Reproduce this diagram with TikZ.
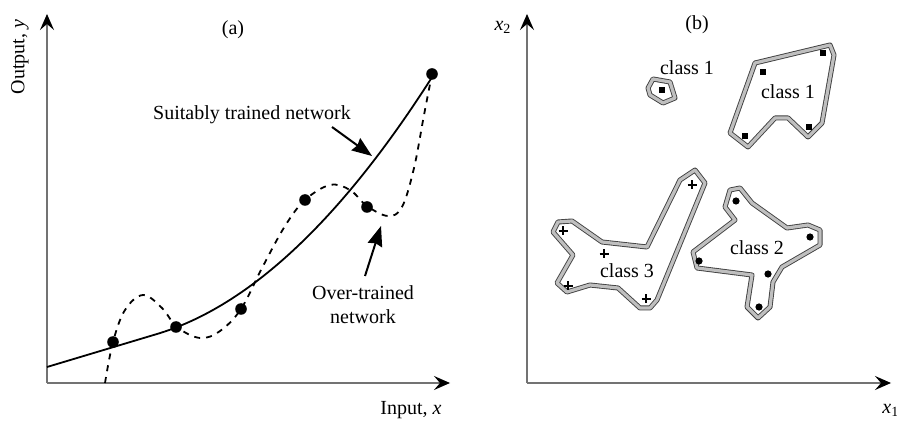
\documentclass[tikz,border=0pt]{standalone}
\usepackage{fontspec}
\setmainfont{Liberation Serif}
\usetikzlibrary{arrows.meta}
\begin{document}
\begin{tikzpicture}[x=0.5pt,y=-0.5pt,
  axis/.style={draw=black!55, line width=0.7pt, -{Stealth[length=8pt,width=7pt,inset=3pt,color=black]}},
  lbl/.style={font=\fontsize{10}{12}\selectfont, inner sep=0pt},
  pointer/.style={line width=1pt, -{Stealth[length=10pt,width=7.5pt,inset=1pt]}},
  fitcurve/.style={line width=0.9pt},
  overcurve/.style={line width=0.9pt, dash pattern=on 3pt off 3pt},
  region/.style={fill=white, draw=black!75, double=black!25, double distance=1.6pt, line width=0.45pt, line join=round},
  sqmark/.style={rectangle, fill=black, minimum size=3pt, inner sep=0pt},
  dotmark/.style={circle, fill=black, minimum size=3.6pt, inner sep=0pt},
  bigdot/.style={circle, fill=black, minimum size=5.8pt, inner sep=0pt},
  plusmark/.style={line width=0.9pt},
]
\useasboundingbox (0,0) rectangle (897,421);
\clip (0,0) rectangle (897,421);

% ---------------- panel (a) ----------------
\coordinate (ao) at (47,383);
\coordinate (ay) at (47,14);
\coordinate (ax) at (450,383);
\draw[axis] (ao) -- (ay);
\draw[axis] (ao) -- (ax);

\node[lbl] (pa) at (233,30) {(a)};
\node[lbl, rotate=90] (ylab) at (20,57) {Output, \textit{y}};
\node[lbl] (xlab) at (411,410) {Input, \textit{x}};

\draw[fitcurve] plot[domain=0:389, samples=90, smooth]
  ({47+\x}, {367 - 0.3*\x - (0.048*max(\x-110,0))^2});

\draw[overcurve] plot[smooth, tension=0.6] coordinates {
 (105,383) (113,342) (125,310) (143,295) (162,308) (177,327) (200,338)
 (220,331) (241,309) (262,268) (285,226) (305,200) (330,185) (350,190)
 (367,206) (388,216) (402,207) (414,168) (424,115) (432,74)};

\node[bigdot] (d1) at (113,342) {};
\node[bigdot] (d2) at (176,327) {};
\node[bigdot] (d3) at (241,309) {};
\node[bigdot] (d4) at (305,200) {};
\node[bigdot] (d5) at (367,207) {};
\node[bigdot] (d6) at (432,74) {};

\node[lbl] (suit) at (252,115) {Suitably trained network};
\node[lbl, align=center] (over) at (363,305) {Over-trained\\network};

\coordinate (p1s) at (332,127);
\coordinate (p1e) at (372,156);
\draw[pointer] (p1s) -- (p1e);
\coordinate (p2s) at (365,276);
\coordinate (p2e) at (381,226);
\draw[pointer] (p2s) -- (p2e);

% ---------------- panel (b) ----------------
\coordinate (bo) at (527,383);
\coordinate (by) at (527,14);
\coordinate (bx) at (891,383);
\draw[axis] (bo) -- (by);
\draw[axis] (bo) -- (bx);

\node[lbl] (pb) at (697,25) {(b)};
\node[lbl] (x2lab) at (503,27) {\textit{x}\textsubscript{2}};
\node[lbl, anchor=west] (x1lab) at (882,410) {\textit{x}\textsubscript{1}};

% regions
\draw[region] (648,88) -- (653,79) -- (670,82) -- (675,98) -- (663,103) -- (650,95) -- cycle;
\draw[region] (755,63) -- (830,45) -- (834,55) -- (822,123) -- (808,137) -- (788,118)
  -- (775,118) -- (748,147) -- (730,133) -- cycle;
\draw[region] (553,232) -- (558,222) -- (572,221) -- (602,242) -- (647,247) -- (680,180)
  -- (695,170) -- (705,183) -- (657,300) -- (650,308) -- (640,308) -- (618,288)
  -- (590,285) -- (567,292) -- (557,283) -- (573,255) -- cycle;
\draw[region] (725,207) -- (730,190) -- (740,188) -- (752,203) -- (787,228) -- (808,225)
  -- (820,230) -- (820,245) -- (782,267) -- (773,282) -- (770,307) -- (758,318)
  -- (747,307) -- (752,275) -- (697,268) -- (693,252) -- (735,220) -- cycle;

% class labels
\node[lbl] (c1a) at (687,68) {class 1};
\node[lbl] (c1b) at (788,92) {class 1};
\node[lbl] (c3) at (627,271) {class 3};
\node[lbl] (c2) at (757,248) {class 2};

% class 1 squares
\node[sqmark] (s1) at (662,90) {};
\node[sqmark] (s2) at (763,72) {};
\node[sqmark] (s3) at (823,53) {};
\node[sqmark] (s4) at (745,136) {};
\node[sqmark] (s5) at (809,127) {};

% class 3 plus marks
\foreach \p in {(563,231),(604,254),(568,286),(646,299),(692,185)}
  \draw[plusmark, shift={\p}] (-4.5,0) -- (4.5,0) (0,-4.5) -- (0,4.5);

% class 2 dots
\node[dotmark] (t1) at (736,201) {};
\node[dotmark] (t2) at (699,261) {};
\node[dotmark] (t3) at (810,237) {};
\node[dotmark] (t4) at (768,274) {};
\node[dotmark] (t5) at (759,307) {};
\end{tikzpicture}
\end{document}
